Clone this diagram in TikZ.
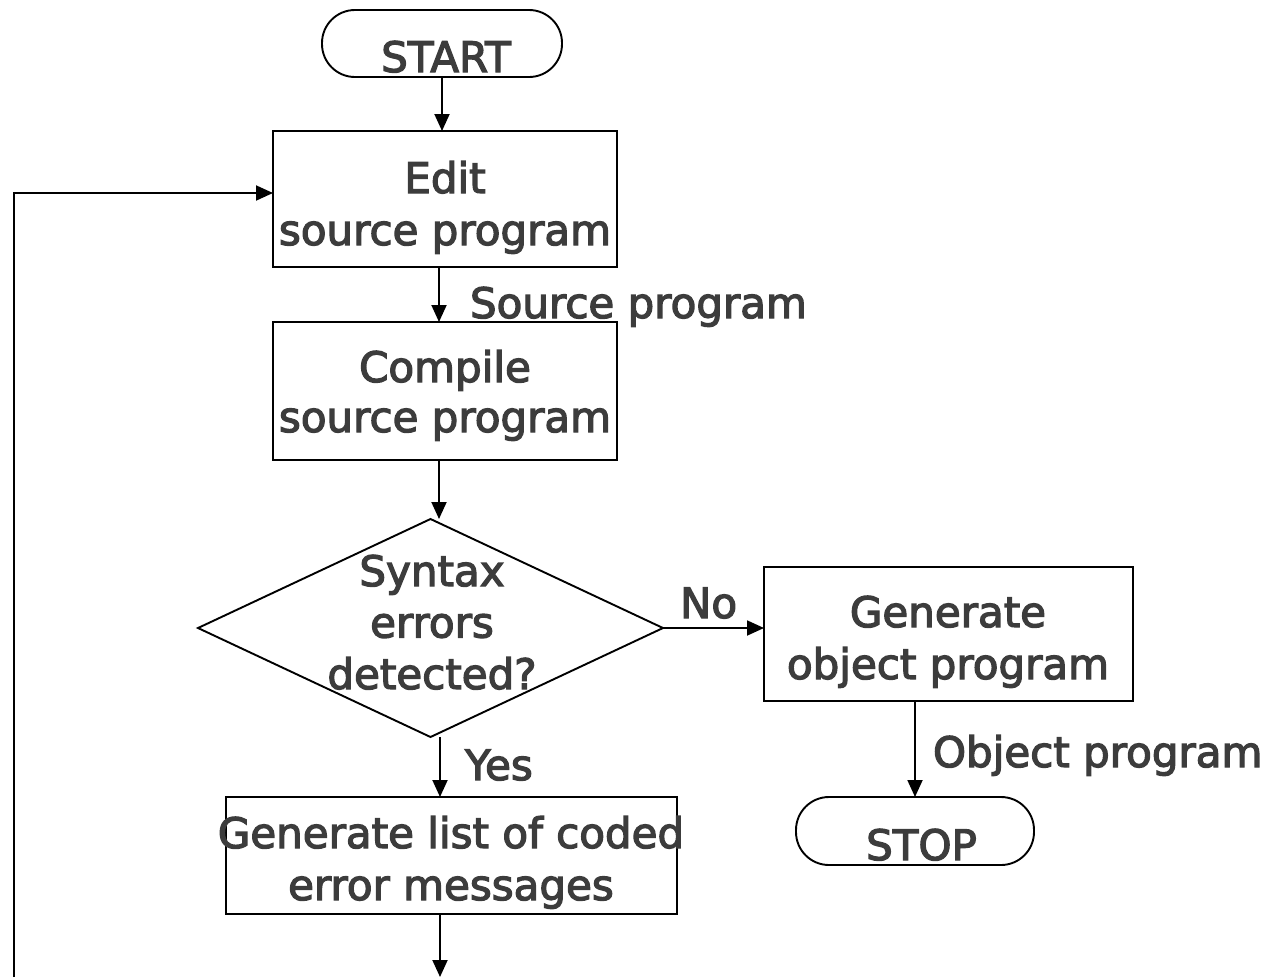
\documentclass[tikz,border=0pt]{standalone}
\usepackage{fontspec}
\setmainfont{DejaVu Sans}[FakeBold=3]
\usetikzlibrary{arrows.meta,shapes.geometric}
\definecolor{txt}{HTML}{3C3C3C}
\newcommand{\tstrut}{\rule{0pt}{32pt}}
\begin{document}
\begin{tikzpicture}[x=1pt,y=-1pt,
  every node/.style={inner sep=0pt, outer sep=0pt},
  term/.style={draw, line width=1.9pt, rectangle, rounded corners=33pt},
  proc/.style={draw, line width=1.9pt, rectangle},
  dec/.style={draw, line width=1.9pt, diamond, aspect=2.13},
  lbl/.style={text=txt, align=center, font=\fontsize{42}{#1}\selectfont},
  lbl/.default=42,
  arr/.style={line width=1.9pt, -{Triangle[length=17pt,width=15pt]}}
]
\path[use as bounding box] (0,0) rectangle (1274,978);

% shapes
\node[term, minimum width=240pt, minimum height=67pt] (start) at (442,43.5) {};
\node[proc, minimum width=344pt, minimum height=136pt] (edit) at (445,199) {};
\node[proc, minimum width=344pt, minimum height=138pt] (compile) at (445,391) {};
\node[dec, minimum width=465pt, minimum height=218pt] (dia) at (430.5,628) {};
\node[proc, minimum width=369pt, minimum height=134pt] (genobj) at (948.5,634) {};
\node[term, minimum width=238pt, minimum height=68pt] (stop) at (915,831) {};
\node[proc, minimum width=451pt, minimum height=117pt] (genlist) at (451.5,855.5) {};

% texts
\node[lbl, anchor=base] (start-t) at (446,72) {START};
\node[lbl=52, anchor=north] (edit-t) at (445,161) {\tstrut Edit\\source program};
\node[lbl=50, anchor=north] (compile-t) at (445,350) {\tstrut Compile\\source program};
\node[lbl=51.5, anchor=north] (dia-t) at (432,554) {\tstrut Syntax\\errors\\detected?};
\node[lbl=52, anchor=north] (genobj-t) at (948,595) {\tstrut Generate\\object program};
\node[lbl=52, anchor=north] (genlist-t) at (451,816) {\tstrut Generate list of coded\\error messages};
\node[lbl, anchor=base] (stop-t) at (921.5,860) {STOP};

% connector labels
\node[lbl, anchor=base west] (src-l) at (470,318) {Source program};
\node[lbl, anchor=base west] (no-l) at (680,618) {No};
\node[lbl, anchor=base west] (yes-l) at (465,780) {Yes};
\node[lbl, anchor=base west] (obj-l) at (933,767) {Object program};

% connectors
\coordinate (bot) at (440,977);
\coordinate (loopb) at (14,977);
\draw[arr] (start.south) -- (start.south |- edit.north);
\draw[arr] ([xshift=-6pt]edit.south) -- ([xshift=-6pt]compile.north);
\draw[arr] ([xshift=-6pt]compile.south) -- ([xshift=-6pt]compile.south |- dia.north);
\draw[arr] (dia.east) -- (dia.east -| genobj.west);
\draw[arr] (stop.north |- genobj.south) -- (stop.north);
\draw[arr] ([xshift=9.5pt]dia.south) -- ([xshift=9.5pt]dia.south |- genlist.north);
\draw[arr] ([xshift=-11.5pt]genlist.south) -- (bot);
\draw[arr] (loopb) |- ([yshift=6pt]edit.west);
\end{tikzpicture}
\end{document}
